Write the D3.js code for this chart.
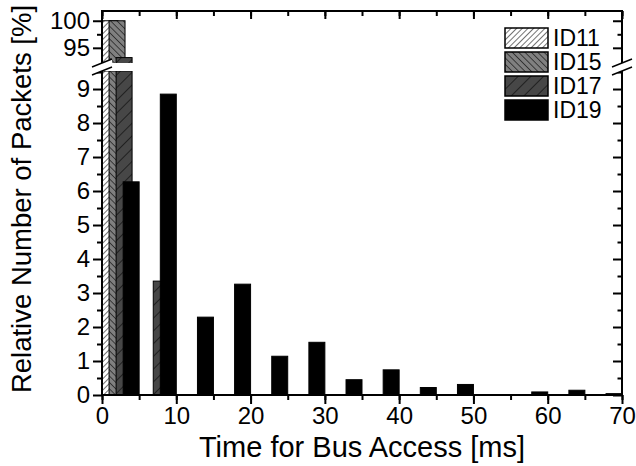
<!DOCTYPE html>
<html>
<head>
<meta charset="utf-8">
<script src="https://cdn.jsdelivr.net/npm/d3@7"></script>
<style>
  body { margin: 0; background: #fff; }
  text { font-family: Arial, "Liberation Sans", sans-serif; fill: #000; }
</style>
</head>
<body>
<div id="chart"></div>
<script>
// bins of 5 ms, one bar per ID inside each bin
var binStart = [0, 5, 10, 15, 20, 25, 30, 35, 40, 45, 50, 55, 60, 65];
var seriesNames = ["ID11", "ID15", "ID17", "ID19"];
var id11 = [100, 0, 0, 0, 0, 0, 0, 0, 0, 0, 0, 0, 0, 0];
var id15 = [100, 0, 0, 0, 0, 0, 0, 0, 0, 0, 0, 0, 0, 0];
var id17 = [93.2, 3.35, 0, 0, 0, 0, 0, 0, 0, 0, 0, 0, 0, 0];
var id19 = [6.27, 8.85, 2.29, 3.26, 1.14, 1.55, 0.45, 0.74, 0.22, 0.31, 0, 0.09, 0.14, 0.04];
var xTicks = [0, 10, 20, 30, 40, 50, 60, 70];
var yTicksLow = [0, 1, 2, 3, 4, 5, 6, 7, 8, 9];
var yTicksHigh = [95, 100];

var width = 636, height = 466;
var plotLeft = 102, plotRight = 622, plotTop = 11, plotBottom = 395;
var breakTop = 63, breakBottom = 71;

var svg = d3.select("#chart").append("svg")
    .attr("width", width)
    .attr("height", height);

var x = d3.scaleLinear().domain([0, 70]).range([plotLeft, plotRight]);
var yLow = d3.scaleLinear().domain([0, 9.53]).range([plotBottom, breakBottom]);
var yHigh = d3.scaleLinear().domain([92.2, 101.8]).range([breakTop, plotTop]);

// hatch patterns
var defs = svg.append("defs");
function hatch(id, bg, angle, gap) {
  var p = defs.append("pattern")
      .attr("id", id)
      .attr("patternUnits", "userSpaceOnUse")
      .attr("width", gap).attr("height", gap)
      .attr("patternTransform", "rotate(" + angle + ")");
  p.append("rect").attr("width", gap).attr("height", gap).attr("fill", bg);
  p.append("line").attr("x1", 0).attr("y1", 0).attr("x2", 0).attr("y2", gap)
      .attr("stroke", "#000").attr("stroke-width", 1.1);
}
hatch("h11", "#fff", 45, 4);
hatch("h15", "#808080", -45, 4.5);
hatch("h17", "#474747", 45, 9);
var fills = ["url(#h11)", "url(#h15)", "url(#h17)", "#000"];

var offsets = [0, 0.95, 1.9, 2.85];
var barW = 2.15;

var allSeries = [id11, id15, id17, id19];
var bars = [];
allSeries.forEach(function(vals, i) {
  vals.forEach(function(v, b) {
    if (v > 0) bars.push({ s: i, x0: binStart[b] + offsets[i], v: v });
  });
});

defs.append("clipPath").attr("id", "clipLow").append("rect")
    .attr("x", plotLeft).attr("y", breakBottom)
    .attr("width", plotRight - plotLeft).attr("height", plotBottom - breakBottom);
defs.append("clipPath").attr("id", "clipHigh").append("rect")
    .attr("x", plotLeft).attr("y", plotTop)
    .attr("width", plotRight - plotLeft).attr("height", breakTop - plotTop);

var gLow = svg.append("g").attr("clip-path", "url(#clipLow)");
gLow.selectAll("rect").data(bars).enter().append("rect")
    .attr("x", function(d) { return x(d.x0); })
    .attr("width", function(d) { return x(d.x0 + barW) - x(d.x0); })
    .attr("y", function(d) { return yLow(Math.min(d.v, 9.53)); })
    .attr("height", function(d) { return plotBottom - yLow(Math.min(d.v, 9.53)) + 2; })
    .attr("fill", function(d) { return fills[d.s]; })
    .attr("stroke", "#000").attr("stroke-width", 1);

var gHigh = svg.append("g").attr("clip-path", "url(#clipHigh)");
gHigh.selectAll("rect").data(bars.filter(function(d) { return d.v > 92.2; })).enter().append("rect")
    .attr("x", function(d) { return x(d.x0); })
    .attr("width", function(d) { return x(d.x0 + barW) - x(d.x0); })
    .attr("y", function(d) { return yHigh(d.v); })
    .attr("height", function(d) { return breakTop - yHigh(d.v) + 2; })
    .attr("fill", function(d) { return fills[d.s]; })
    .attr("stroke", "#000").attr("stroke-width", 1);

// x axes (bottom with labels, top with inward ticks)
var minorX = d3.range(0, 71, 5);
svg.append("g").attr("transform", "translate(0," + plotBottom + ")")
    .call(d3.axisBottom(x).tickValues(minorX).tickSize(5).tickFormat(""));
svg.append("g").attr("transform", "translate(0," + plotBottom + ")")
    .call(d3.axisBottom(x).tickValues(xTicks).tickSize(9).tickPadding(3));
svg.append("g").attr("transform", "translate(0," + plotTop + ")")
    .call(d3.axisBottom(x).tickValues(minorX).tickSize(5).tickFormat(""));
svg.append("g").attr("transform", "translate(0," + plotTop + ")")
    .call(d3.axisBottom(x).tickValues(xTicks).tickSize(8).tickFormat(""));

// y axes: left with labels, right with inward ticks
var minorLow = d3.range(0.5, 9.6, 1);
function yAxes(scale, major, minor, pos, side) {
  var t = "translate(" + pos + ",0)";
  var gMinor = svg.append("g").attr("transform", t)
      .call(d3.axisLeft(scale).tickValues(minor).tickSize(5).tickFormat(""));
  var gMajor = svg.append("g").attr("transform", t)
      .call(d3.axisLeft(scale).tickValues(major).tickSize(9).tickPadding(3)
        .tickFormat(side === "left" ? d3.format("d") : ""));
  if (side === "right") {
    gMinor.selectAll("line").attr("x2", -4.5);
    gMajor.selectAll("line").attr("x2", -9);
  }
}
yAxes(yLow, yTicksLow, minorLow, plotLeft, "left");
yAxes(yHigh, yTicksHigh, [97.5], plotLeft, "left");
yAxes(yLow, yTicksLow, minorLow, plotRight, "right");
yAxes(yHigh, yTicksHigh, [97.5], plotRight, "right");

svg.selectAll(".domain").remove();
svg.selectAll(".tick line").attr("stroke", "#000").attr("stroke-width", 2);
svg.selectAll(".tick text").attr("font-size", 24).attr("font-family", "Arial, 'Liberation Sans', sans-serif").attr("fill", "#000");

// frame lines
var frame = svg.append("g").attr("stroke", "#000").attr("stroke-width", 2).attr("fill", "none");
frame.append("line").attr("x1", plotLeft - 1).attr("x2", plotRight + 1).attr("y1", plotBottom).attr("y2", plotBottom);
frame.append("line").attr("x1", plotLeft - 1).attr("x2", plotRight + 1).attr("y1", plotTop).attr("y2", plotTop);
[plotLeft, plotRight].forEach(function(px) {
  frame.append("line").attr("x1", px).attr("x2", px).attr("y1", plotTop).attr("y2", breakTop);
  frame.append("line").attr("x1", px).attr("x2", px).attr("y1", breakBottom).attr("y2", plotBottom);
});

// break marks
[plotLeft, plotRight].forEach(function(px) {
  var mid = (breakTop + breakBottom) / 2;
  svg.append("path")
      .attr("d", "M" + (px - 10) + "," + (mid + 8) + "L" + (px + 10) + "," + mid
        + "L" + (px + 10) + "," + (mid - 8) + "L" + (px - 10) + "," + mid + "Z")
      .attr("fill", "#fff");
  [-4, 4].forEach(function(o) {
    svg.append("line")
        .attr("x1", px - 10).attr("y1", mid + 4 + o)
        .attr("x2", px + 10).attr("y2", mid - 4 + o)
        .attr("stroke", "#000").attr("stroke-width", 1.5);
  });
});

// legend
var legend = svg.append("g").attr("transform", "translate(505,28)");
seriesNames.forEach(function(name, i) {
  var row = legend.append("g").attr("transform", "translate(0," + (i * 24) + ")");
  row.append("rect").attr("width", 43).attr("height", 20)
      .attr("fill", fills[i]).attr("stroke", "#000").attr("stroke-width", 1.5);
  row.append("text").attr("x", 48).attr("y", 18).style("font-size", "23px").text(name);
});

// titles
svg.append("text")
    .attr("x", (plotLeft + plotRight) / 2).attr("y", 457)
    .attr("text-anchor", "middle").style("font-size", "29px")
    .text("Time for Bus Access [ms]");
svg.append("text")
    .attr("transform", "translate(31,199) rotate(-90)")
    .attr("text-anchor", "middle").style("font-size", "27.5px")
    .text("Relative Number of Packets [%]");
</script>
</body>
</html>
